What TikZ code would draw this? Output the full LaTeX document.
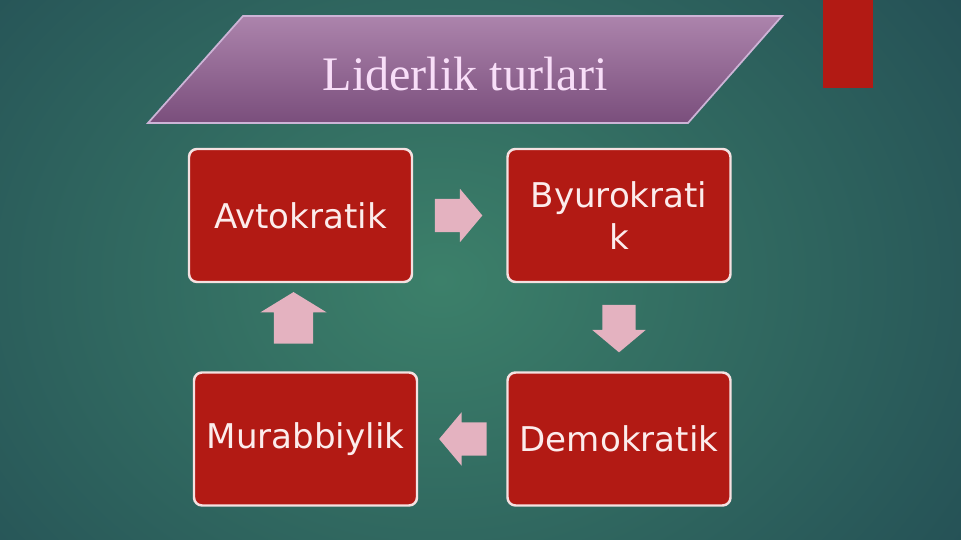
\documentclass[tikz,border=0pt]{standalone}
\usepackage{fontspec}
\setmainfont{Liberation Serif}
\newfontfamily\boxfont{DejaVu Sans}
\usepackage{tikz}
\usetikzlibrary{shapes,arrows,positioning,calc}

\definecolor{bgouter}{RGB}{23,53,74}
\definecolor{bginner}{RGB}{60,128,106}
\definecolor{boxred}{RGB}{178,26,20}
\definecolor{boxline}{RGB}{245,225,225}
\definecolor{boxtext}{RGB}{252,236,236}
\definecolor{arrowpink}{RGB}{228,178,192}
\definecolor{titletop}{RGB}{172,132,172}
\definecolor{titlebot}{RGB}{122,78,124}
\definecolor{titleedge}{RGB}{205,180,215}
\definecolor{titletext}{RGB}{248,222,248}

\begin{document}
\begin{tikzpicture}[
    kind/.style={draw=boxline, line width=0.7pt, fill=boxred, rounded corners=0.08cm,
        minimum width=2.23cm, minimum height=1.33cm, align=center, text=boxtext,
        font=\boxfont\fontsize{9.7}{11.7}\selectfont},
    flow/.style={single arrow, fill=arrowpink, draw=none, inner sep=0.16cm,
        single arrow head extend=0.1cm, single arrow tip angle=100,
        minimum height=0.47cm, anchor=tail}
]
    \useasboundingbox (0,0) rectangle (9.61,5.40);

    % background
    \fill[bgouter] (0,0) rectangle (9.61,5.40);
    \begin{scope}
        \clip (0,0) rectangle (9.61,5.40);
        \shade[inner color=bginner, outer color=bgouter] (4.4,2.6) ellipse (10 and 8);
    \end{scope}
    \fill[boxred] (8.23,5.40) rectangle (8.73,4.52);

    % title
    \fill[top color=titletop, bottom color=titlebot, draw=titleedge, line width=0.5pt]
        (2.43,5.24) -- (7.82,5.24) -- (6.88,4.17) -- (1.48,4.17) -- cycle;
    \node[text=titletext, font=\fontsize{13.7}{16}\selectfont] (title) at (4.65,4.66) {Liderlik turlari};

    % types
    \node[kind] (avto) at (3.005,3.245) {Avtokratik};
    \node[kind] (byuro) at (6.19,3.245) {Byurokrati\\k};
    \node[kind] (demo) at (6.19,1.01) {Demokratik};
    \node[kind] (murab) at (3.055,1.01) {Murabbiylik};

    % cycle arrows
    \node[flow] (a1) at ($(avto.east)+(0.21,0)$) {};
    \node[flow, rotate=-90] (a2) at ($(byuro.south)+(0,-0.21)$) {};
    \node[flow, rotate=180] (a3) at ($(demo.west)+(-0.19,0)$) {};
    \node[flow, rotate=90, inner sep=0.19cm, single arrow head extend=0.135cm,
        single arrow tip angle=117, minimum height=0.42cm] (a4) at ($(murab.north)+(-0.12,0.27)$) {};
\end{tikzpicture}
\end{document}
